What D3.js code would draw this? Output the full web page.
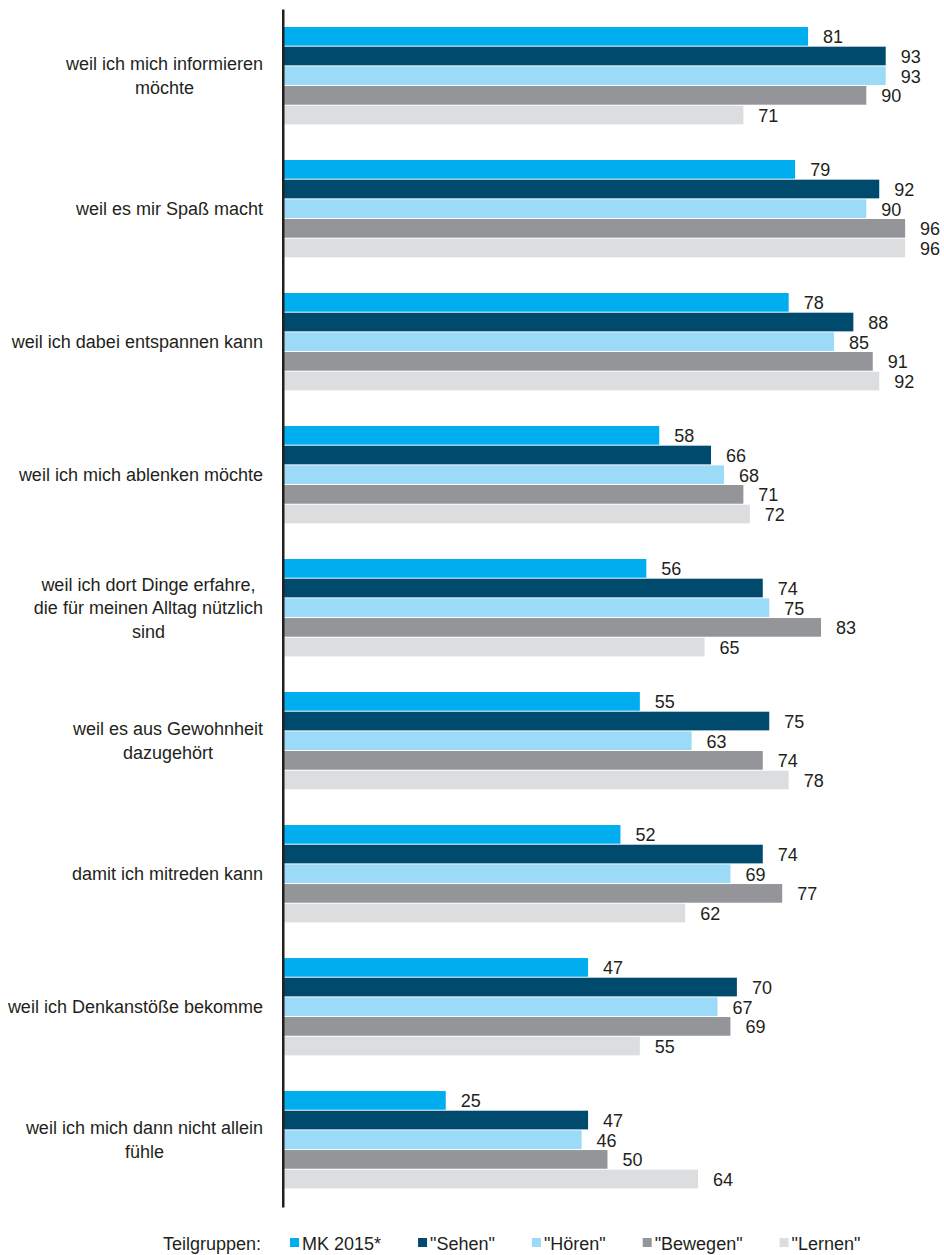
<!DOCTYPE html>
<html><head><meta charset="utf-8">
<script src="https://cdn.jsdelivr.net/npm/d3@7"></script>
<style>
html,body{margin:0;padding:0;background:#fff;}
svg{display:block;}
text{font-family:"Liberation Sans",Arial,sans-serif;fill:#231f20;}
</style></head>
<body><svg id="chart" width="944" height="1255"></svg>
<script>
const categories = [
  "weil ich mich informieren\nmöchte",
  "weil es mir Spaß macht",
  "weil ich dabei entspannen kann",
  "weil ich mich ablenken möchte",
  "weil ich dort Dinge erfahre,\ndie für meinen Alltag nützlich\nsind",
  "weil es aus Gewohnheit\ndazugehört",
  "damit ich mitreden kann",
  "weil ich Denkanstöße bekomme",
  "weil ich mich dann nicht allein\nfühle"
];
const seriesNames = ["MK 2015*", "\"Sehen\"", "\"Hören\"", "\"Bewegen\"", "\"Lernen\""];
const seriesColors = ["#00aeef", "#004b6d", "#9cdbf7", "#939598", "#dcdddf"];
const mk2015  = [81, 79, 78, 58, 56, 55, 52, 47, 25];
const sehen   = [93, 92, 88, 66, 74, 75, 74, 70, 47];
const hoeren  = [93, 90, 85, 68, 75, 63, 69, 67, 46];
const bewegen = [90, 96, 91, 71, 83, 74, 77, 69, 50];
const lernen  = [71, 96, 92, 72, 65, 78, 62, 55, 64];
const legendTitle = "Teilgruppen:";

const seriesValues = [mk2015, sehen, hoeren, bewegen, lernen];
const svg = d3.select("#chart");
const FS = 18;

const x = d3.scaleLinear().domain([0, 100]).range([284, 931]);
const y = d3.scaleBand().domain(d3.range(categories.length)).range([27, 1188.4]).paddingInner(0.268).paddingOuter(0);
const yi = d3.scaleBand().domain(d3.range(seriesNames.length)).range([0, y.bandwidth()]).paddingInner(0.05).paddingOuter(0);

const g = svg.append("g");
categories.forEach((c, ci) => {
  const gg = g.append("g").attr("transform", `translate(0,${y(ci)})`);
  seriesValues.forEach((vals, si) => {
    gg.append("rect")
      .attr("x", x(0)).attr("y", yi(si))
      .attr("width", x(vals[ci]) - x(0)).attr("height", yi.bandwidth())
      .attr("fill", seriesColors[si]);
    gg.append("text")
      .attr("x", x(vals[ci]) + 15)
      .attr("y", yi(si) + yi.bandwidth() / 2 + 7)
      .attr("font-size", FS)
      .text(vals[ci]);
  });
  const lines = c.split("\n");
  const cy = y(ci) + y.bandwidth() / 2;
  const lh = 23.5;
  const lg = g.append("g");
  const ts = lines.map((ln, k) => lg.append("text")
    .attr("y", cy + 6.5 + (k - (lines.length - 1) / 2) * lh)
    .attr("font-size", FS)
    .attr("text-anchor", "middle")
    .text(ln));
  const w = d3.max(ts, t => t.node().getComputedTextLength());
  const right = 263;
  ts.forEach(t => t.attr("x", right - w / 2));
});

const yAxis = d3.axisLeft(d3.scaleLinear().range([9, 1207])).ticks(0).tickSize(0).tickFormat("");
svg.append("g").attr("transform", "translate(282.75,0)").call(yAxis)
  .call(s => s.select(".domain").attr("stroke", "#231f20").attr("stroke-width", 2.5));

const leg = svg.append("g");
leg.append("text").attr("x", 163).attr("y", 1250).attr("font-size", FS).text(legendTitle);
let lx = 290;
seriesNames.forEach((n, i) => {
  leg.append("rect").attr("x", lx).attr("y", 1238).attr("width", 9).attr("height", 9).attr("fill", seriesColors[i]);
  const t = leg.append("text").attr("x", lx + 12).attr("y", 1250).attr("font-size", FS).text(n);
  lx += 12 + t.node().getComputedTextLength() + 37;
});
</script></body></html>
